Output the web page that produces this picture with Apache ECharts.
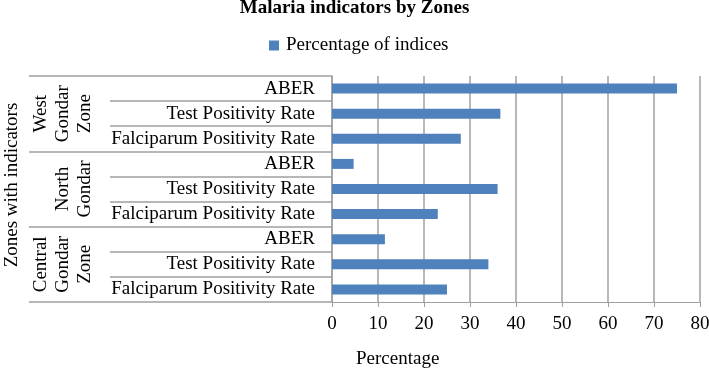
<!DOCTYPE html>
<html>
<head>
<meta charset="utf-8">
<script src="https://cdn.jsdelivr.net/npm/echarts@6/dist/echarts.min.js"></script>
<style>
  html, body { margin: 0; padding: 0; background: #fff; }
  #chart { width: 709px; height: 369px; }
</style>
</head>
<body>
<div id="chart"></div>
<script>
// indicators, top to bottom
const indicators = [
  'ABER', 'Test Positivity Rate', 'Falciparum Positivity Rate',
  'ABER', 'Test Positivity Rate', 'Falciparum Positivity Rate',
  'ABER', 'Test Positivity Rate', 'Falciparum Positivity Rate'
];
const zones = ['West\nGondar\nZone', '\nNorth\nGondar', 'Central\nGondar\nZone'];
const percentages = [75, 36.6, 28, 4.7, 36, 23, 11.5, 34, 25];
const xTicks = [0, 80, 10];

const font = 'Liberation Serif';
const lineColor = '#a0a0a0';

const chart = echarts.init(document.getElementById('chart'), null, { renderer: 'canvas' });

chart.setOption({
  animation: false,
  textStyle: { fontFamily: font, color: '#000' },
  title: [
    {
      text: 'Malaria indicators by Zones',
      left: 'center',
      top: -6,
      textStyle: { fontFamily: font, fontSize: 19, fontWeight: 'bold', color: '#000' }
    },
    {
      text: 'Percentage',
      left: 351,
      top: 345,
      textStyle: { fontFamily: font, fontSize: 19, fontWeight: 'normal', color: '#000' }
    }
  ],
  legend: {
    top: 31,
    left: 264,
    icon: 'rect',
    itemWidth: 10,
    itemHeight: 10,
    textStyle: { fontFamily: font, fontSize: 19, color: '#000', padding: [0, 0, 0, 2] }
  },
  grid: { left: 332, right: 9, top: 76, bottom: 67, containLabel: false, outerBoundsMode: 'none' },
  xAxis: {
    type: 'value',
    min: xTicks[0],
    max: xTicks[1],
    interval: xTicks[2],
    axisLine: { show: true, lineStyle: { color: lineColor } },
    axisTick: { show: true, length: 5, lineStyle: { color: lineColor } },
    axisLabel: { fontFamily: font, fontSize: 19, color: '#000', margin: 13 },
    splitLine: { show: true, lineStyle: { color: lineColor, width: 1.5 } }
  },
  yAxis: [
    {
      type: 'category',
      data: indicators,
      inverse: true,
      axisLine: { show: true, lineStyle: { color: lineColor, width: 1.5 } },
      axisTick: { show: true, length: 222, lineStyle: { color: lineColor, width: 1.5 } },
      axisLabel: { fontFamily: font, fontSize: 19, color: '#000', margin: 17 }
    },
    {
      type: 'category',
      data: zones,
      inverse: true,
      position: 'left',
      name: 'Zones with indicators',
      nameLocation: 'middle',
      nameGap: 310,
      nameTextStyle: { fontFamily: font, fontSize: 19, color: '#000', padding: [0, 0, 0, 8] },
      axisLine: { show: false },
      axisTick: { show: true, length: 303, lineStyle: { color: lineColor, width: 1.5 } },
      axisLabel: {
        fontFamily: font, fontSize: 19, color: '#000',
        rotate: 90, margin: 269, align: 'center', verticalAlign: 'middle',
        lineHeight: 22
      }
    }
  ],
  series: [
    {
      name: 'Percentage of indices',
      type: 'bar',
      yAxisIndex: 0,
      data: percentages,
      barWidth: 10,
      itemStyle: { color: '#4f81bd' }
    }
  ]
});
</script>
</body>
</html>
